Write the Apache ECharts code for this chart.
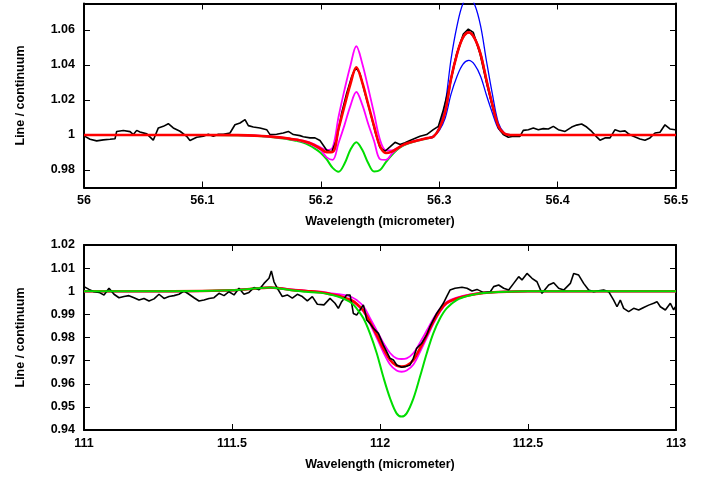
<!DOCTYPE html>
<html>
<head>
<meta charset="utf-8">
<script src="https://cdn.jsdelivr.net/npm/echarts@6/dist/echarts.min.js"></script>
<style>
html,body{margin:0;padding:0;background:#fff;}
#chart{width:717px;height:477px;}
</style>
</head>
<body>
<div id="chart"></div>
<script>
// ---------- Top panel: tick labels ----------
const topXTicks = [56, 56.1, 56.2, 56.3, 56.4, 56.5];
const topYTicks = [0.98, 1, 1.02, 1.04, 1.06];
// ---------- Bottom panel: tick labels ----------
const botXTicks = [111, 111.5, 112, 112.5, 113];
const botYTicks = [0.94, 0.95, 0.96, 0.97, 0.98, 0.99, 1, 1.01, 1.02];

// ---------- Top panel models ----------
const tX = [56.0, 56.05, 56.1, 56.13, 56.15, 56.16, 56.17, 56.175, 56.18, 56.185, 56.19, 56.195, 56.2, 56.205, 56.21, 56.215, 56.22, 56.225, 56.23, 56.235, 56.24, 56.245, 56.25, 56.255, 56.26, 56.265, 56.27, 56.275, 56.28, 56.285, 56.29, 56.295, 56.3, 56.305, 56.31, 56.315, 56.32, 56.325, 56.33, 56.335, 56.34, 56.345, 56.35, 56.355, 56.36, 56.37, 56.4, 56.45, 56.5];
const tGreen = [1.0, 1.0, 1.0, 0.9998, 0.9993, 0.9987, 0.9978, 0.9972, 0.9966, 0.9957, 0.9942, 0.9922, 0.9897, 0.9860, 0.9812, 0.9790, 0.9835, 0.9915, 0.9958, 0.9915, 0.9840, 0.9792, 0.9800, 0.9845, 0.9885, 0.9918, 0.9940, 0.9954, 0.9964, 0.9972, 0.9980, 0.9990, 1.0035, 1.0130, 1.0320, 1.0460, 1.0555, 1.0585, 1.0550, 1.0460, 1.0310, 1.0170, 1.0050, 1.0008, 1.0, 1.0, 1.0, 1.0, 1.0];
const tRed = [1.0, 1.0, 1.0, 0.9999, 0.9994, 0.9989, 0.9982, 0.9977, 0.9972, 0.9965, 0.9955, 0.9940, 0.9921, 0.9902, 0.9903, 1.0035, 1.0165, 1.0290, 1.0386, 1.0300, 1.0175, 1.0050, 0.9935, 0.9897, 0.9905, 0.9925, 0.9945, 0.9957, 0.9966, 0.9974, 0.9982, 0.9990, 1.0035, 1.0130, 1.0320, 1.0460, 1.0555, 1.0585, 1.0550, 1.0460, 1.0310, 1.0170, 1.0050, 1.0008, 1.0, 1.0, 1.0, 1.0, 1.0];
const tMagHi = [1.0, 1.0, 1.0, 0.9999, 0.9994, 0.9990, 0.9983, 0.9978, 0.9974, 0.9967, 0.9959, 0.9945, 0.9928, 0.9914, 0.9928, 1.0104, 1.0257, 1.0395, 1.0506, 1.0408, 1.0269, 1.0122, 0.9973, 0.9912, 0.9911, 0.9927, 0.9946, 0.9958, 0.9967, 0.9975, 0.9983, 0.9990, 1.0035, 1.0130, 1.0320, 1.0460, 1.0555, 1.0585, 1.0550, 1.0460, 1.0310, 1.0170, 1.0050, 1.0008, 1.0, 1.0, 1.0, 1.0, 1.0];
const tMagLo = [1.0, 1.0, 1.0, 0.9999, 0.9994, 0.9988, 0.9981, 0.9975, 0.9970, 0.9962, 0.9951, 0.9934, 0.9913, 0.9872, 0.9858, 0.9954, 1.0056, 1.0166, 1.0245, 1.0173, 1.0064, 0.9965, 0.9862, 0.9858, 0.9893, 0.9923, 0.9943, 0.9956, 0.9965, 0.9973, 0.9981, 0.9990, 1.0035, 1.0130, 1.0320, 1.0460, 1.0555, 1.0585, 1.0550, 1.0460, 1.0310, 1.0170, 1.0050, 1.0008, 1.0, 1.0, 1.0, 1.0, 1.0];
const tBlueHi = [null, null, null, null, null, null, null, null, null, null, null, null, null, null, null, null, null, null, null, null, null, null, null, null, null, null, null, null, 0.9966, 0.9974, 0.9982, 0.9987, 1.0047, 1.0176, 1.0432, 1.0621, 1.0749, 1.0790, 1.0743, 1.0621, 1.0419, 1.0230, 1.0068, 1.0011, 1.0, 1.0, null, null, null];
const tBlueLo = [null, null, null, null, null, null, null, null, null, null, null, null, null, null, null, null, null, null, null, null, null, null, null, null, null, null, null, null, 0.9966, 0.9974, 0.9982, 0.9993, 1.0025, 1.0095, 1.0233, 1.0334, 1.0403, 1.0425, 1.0400, 1.0334, 1.0225, 1.0124, 1.0036, 1.0006, 1.0, 1.0, null, null, null];

// ---------- Top panel observed spectrum ----------
const tObsX = [56.0008, 56.0051, 56.0107, 56.0163, 56.0220, 56.0262, 56.0276, 56.0332, 56.0389, 56.0417, 56.0445, 56.0473, 56.0530, 56.0585, 56.0628, 56.0670, 56.0712, 56.0754, 56.0811, 56.0867, 56.0895, 56.0952, 56.1008, 56.1050, 56.1092, 56.1135, 56.1177, 56.1233, 56.1275, 56.1318, 56.1360, 56.1388, 56.1430, 56.1486, 56.1543, 56.1571, 56.1627, 56.1683, 56.1726, 56.1768, 56.1824, 56.1852, 56.1909, 56.1951, 56.1993, 56.2050, 56.2092, 56.2134, 56.2176, 56.2218, 56.2260, 56.2297, 56.2331, 56.2373, 56.2416, 56.2458, 56.2500, 56.2542, 56.2584, 56.2627, 56.2669, 56.2711, 56.2753, 56.2838, 56.2894, 56.2950, 56.2993, 56.3035, 56.3091, 56.3148, 56.3204, 56.3246, 56.3288, 56.3345, 56.3401, 56.3457, 56.3500, 56.3541, 56.3556, 56.3584, 56.3626, 56.3682, 56.3710, 56.3753, 56.3795, 56.3837, 56.3879, 56.3922, 56.3964, 56.4006, 56.4063, 56.4119, 56.4161, 56.4203, 56.4246, 56.4288, 56.4330, 56.4358, 56.4400, 56.4443, 56.4485, 56.4527, 56.4569, 56.4597, 56.4640, 56.4696, 56.4738, 56.4780, 56.4823, 56.4865, 56.4907, 56.4949, 56.4992];
const tObsY = [0.9992, 0.9975, 0.9966, 0.9972, 0.9975, 0.9978, 1.0020, 1.0025, 1.0019, 1.0002, 1.0026, 1.0017, 1.0006, 0.9970, 1.0040, 1.0049, 1.0064, 1.0040, 1.0021, 0.9992, 0.9968, 0.9987, 0.9992, 1.0004, 0.9992, 1.0004, 1.0004, 1.0011, 1.0058, 1.0068, 1.0087, 1.0053, 1.0045, 1.0040, 1.0030, 1.0002, 1.0004, 1.0011, 1.0020, 1.0002, 0.9996, 0.9990, 0.9983, 0.9983, 0.9968, 0.9913, 0.9902, 0.9973, 1.0124, 1.0237, 1.0331, 1.0384, 1.0350, 1.0237, 1.0133, 1.0020, 0.9927, 0.9907, 0.9932, 0.9958, 0.9945, 0.9955, 0.9968, 0.9992, 1.0002, 1.0030, 1.0049, 1.0143, 1.0294, 1.0463, 1.0576, 1.0604, 1.0585, 1.0463, 1.0294, 1.0143, 1.0040, 1.0002, 0.9996, 0.9987, 0.9992, 0.9992, 1.0026, 1.0030, 1.0040, 1.0030, 1.0036, 1.0034, 1.0049, 1.0030, 1.0020, 1.0045, 1.0056, 1.0062, 1.0045, 1.0020, 0.9989, 0.9970, 0.9983, 0.9983, 1.0030, 1.0020, 1.0023, 1.0007, 0.9992, 0.9977, 0.9970, 0.9983, 1.0011, 1.0015, 1.0058, 1.0034, 1.0030];

// ---------- Bottom panel models ----------
const bX = [111.0, 111.3, 111.5, 111.56, 111.6, 111.63, 111.66, 111.7, 111.75, 111.8, 111.831, 111.86, 111.887, 111.905, 111.921, 111.944, 111.966, 111.989, 112.011, 112.034, 112.056, 112.073, 112.09, 112.113, 112.135, 112.158, 112.18, 112.203, 112.225, 112.259, 112.304, 112.35, 112.4, 112.5, 112.75, 113.0];
const bGreen = [1.0, 1.0, 1.0004, 1.0010, 1.0014, 1.0016, 1.0012, 1.0004, 0.9998, 0.9993, 0.9986, 0.9976, 0.9962, 0.9948, 0.9926, 0.9883, 0.9818, 0.9732, 0.9630, 0.9537, 0.9472, 0.9458, 0.9472, 0.9537, 0.9630, 0.9732, 0.9818, 0.9883, 0.9926, 0.9962, 0.9982, 0.9992, 0.9997, 1.0, 1.0, 1.0];
const bRed = [1.0, 1.0, 1.0004, 1.0010, 1.0014, 1.0016, 1.0013, 1.0006, 1.0001, 0.9996, 0.9988, 0.9980, 0.9969, 0.9960, 0.9946, 0.9917, 0.9868, 0.9811, 0.9753, 0.9703, 0.9678, 0.9674, 0.9678, 0.9703, 0.9753, 0.9811, 0.9868, 0.9917, 0.9949, 0.9969, 0.9984, 0.9993, 0.9997, 1.0, 1.0, 1.0];
const bMagHi = [1.0, 1.0, 1.0004, 1.0010, 1.0014, 1.0016, 1.0014, 1.0008, 1.0003, 0.9998, 0.9992, 0.9988, 0.9982, 0.9974, 0.9962, 0.9935, 0.9885, 0.9830, 0.9778, 0.9733, 0.9710, 0.9707, 0.9710, 0.9733, 0.9778, 0.9830, 0.9881, 0.9925, 0.9954, 0.9972, 0.9986, 0.9994, 0.9997, 1.0, 1.0, 1.0];
const bMagLo = [1.0, 1.0, 1.0004, 1.0010, 1.0014, 1.0016, 1.0013, 1.0006, 1.0001, 0.9996, 0.9987, 0.9979, 0.9967, 0.9957, 0.9942, 0.9911, 0.9859, 0.9798, 0.9737, 0.9683, 0.9657, 0.9652, 0.9657, 0.9683, 0.9737, 0.9798, 0.9859, 0.9911, 0.9946, 0.9967, 0.9983, 0.9993, 0.9997, 1.0, 1.0, 1.0];

// ---------- Bottom panel observed spectrum ----------
const bObsX = [111.0000, 111.0169, 111.0338, 111.0507, 111.0676, 111.0845, 111.1014, 111.1182, 111.1351, 111.1520, 111.1689, 111.1858, 111.2027, 111.2196, 111.2365, 111.2534, 111.2703, 111.2872, 111.3041, 111.3209, 111.3378, 111.3547, 111.3716, 111.3885, 111.4054, 111.4223, 111.4392, 111.4561, 111.4730, 111.4899, 111.5068, 111.5236, 111.5405, 111.5574, 111.5743, 111.5912, 111.6081, 111.6250, 111.6329, 111.6419, 111.6532, 111.6700, 111.6869, 111.7038, 111.7207, 111.7376, 111.7545, 111.7714, 111.7883, 111.8108, 111.8311, 111.8480, 111.8592, 111.8705, 111.8874, 111.8986, 111.9043, 111.9099, 111.9212, 111.9324, 111.9437, 111.9493, 111.9550, 111.9662, 111.9775, 111.9944, 112.0000, 112.0113, 112.0225, 112.0338, 112.0451, 112.0563, 112.0732, 112.0845, 112.1014, 112.1126, 112.1239, 112.1408, 112.1577, 112.1689, 112.1802, 112.1914, 112.2027, 112.2140, 112.2252, 112.2365, 112.2534, 112.2601, 112.2770, 112.2939, 112.3108, 112.3277, 112.3502, 112.3727, 112.3840, 112.4009, 112.4178, 112.4347, 112.4516, 112.4685, 112.4797, 112.4966, 112.5135, 112.5304, 112.5473, 112.5529, 112.5698, 112.5867, 112.6036, 112.6205, 112.6430, 112.6543, 112.6712, 112.6880, 112.7049, 112.7218, 112.7387, 112.7556, 112.7725, 112.7894, 112.8007, 112.8119, 112.8232, 112.8401, 112.8570, 112.8739, 112.8908, 112.9077, 112.9245, 112.9358, 112.9471, 112.9640, 112.9809, 112.9921, 112.9977];
const bObsY = [1.0020, 1.0008, 0.9998, 0.9995, 0.9984, 1.0013, 0.9987, 0.9972, 0.9977, 0.9981, 0.9972, 0.9962, 0.9969, 0.9958, 0.9967, 0.9987, 0.9969, 0.9977, 0.9981, 0.9987, 1.0001, 0.9987, 0.9972, 0.9958, 0.9962, 0.9969, 0.9972, 0.9991, 0.9981, 0.9998, 0.9984, 1.0013, 0.9987, 0.9995, 1.0016, 1.0006, 1.0034, 1.0056, 1.0088, 1.0041, 1.0013, 0.9977, 0.9984, 0.9970, 0.9987, 0.9977, 0.9958, 0.9977, 0.9944, 0.9941, 0.9969, 0.9948, 0.9926, 0.9955, 0.9984, 0.9984, 0.9948, 0.9904, 0.9897, 0.9919, 0.9941, 0.9912, 0.9876, 0.9861, 0.9840, 0.9818, 0.9825, 0.9767, 0.9739, 0.9710, 0.9703, 0.9681, 0.9671, 0.9674, 0.9681, 0.9710, 0.9753, 0.9775, 0.9811, 0.9847, 0.9876, 0.9904, 0.9926, 0.9948, 0.9977, 1.0005, 1.0013, 1.0005, 1.0017, 1.0013, 1.0001, 1.0008, 0.9994, 0.9998, 1.0020, 1.0027, 1.0013, 1.0005, 1.0034, 1.0063, 1.0049, 1.0077, 1.0056, 1.0041, 0.9991, 0.9994, 1.0027, 1.0037, 1.0013, 1.0005, 1.0034, 1.0077, 1.0070, 1.0034, 1.0005, 0.9998, 1.0002, 1.0005, 0.9998, 0.9962, 0.9933, 0.9962, 0.9926, 0.9912, 0.9926, 0.9919, 0.9930, 0.9940, 0.9948, 0.9955, 0.9933, 0.9919, 0.9948, 0.9919, 0.9933];

// ---------- build ----------
const zip = (xs, ys) => xs.map((x, i) => [x, ys[i] === null ? null : ys[i]]);
const FONT = "'Liberation Sans', Arial, sans-serif";
const labelStyle = { fontFamily: FONT, fontWeight: 'bold', fontSize: 12.5, color: '#000' };
const axisLineStyle = { show: true, lineStyle: { color: '#000', width: 2 } };

function xAxes(gi, min, max, ticks, pos, showLabel) {
  return {
    type: 'value', gridIndex: gi, position: pos, min: min, max: max,
    axisLine: axisLineStyle,
    axisTick: { show: true, inside: true, length: 6, customValues: ticks, lineStyle: { color: '#000', width: 1 } },
    axisLabel: showLabel ? Object.assign({ show: true, margin: 7, customValues: ticks }, labelStyle) : { show: false },
    splitLine: { show: false },
    name: showLabel ? 'Wavelength (micrometer)' : '',
    nameLocation: 'middle', nameGap: 28,
    nameTextStyle: { fontFamily: FONT, fontWeight: 'bold', fontSize: 12.5, color: '#000' }
  };
}
function yAxes(gi, min, max, ticks, pos, showLabel) {
  return {
    type: 'value', gridIndex: gi, position: pos, min: min, max: max,
    axisLine: axisLineStyle,
    axisTick: { show: true, inside: true, length: 6, customValues: ticks, lineStyle: { color: '#000', width: 1 } },
    axisLabel: showLabel ? Object.assign({ show: true, margin: 9, customValues: ticks }, labelStyle) : { show: false },
    splitLine: { show: false },
    name: showLabel ? 'Line / continuum' : '',
    nameLocation: 'middle', nameGap: 57,
    nameTextStyle: { fontFamily: FONT, fontWeight: 'bold', fontSize: 12.5, color: '#000' }
  };
}
function line(name, data, color, width, xi, yi, smooth) {
  return {
    name: name, type: 'line', data: data, xAxisIndex: xi, yAxisIndex: yi,
    showSymbol: false, symbol: 'none', smooth: smooth ? 0.35 : false,
    connectNulls: false, clip: true,
    lineStyle: { color: color, width: width }, itemStyle: { color: color },
    silent: true, animation: false
  };
}

const option = {
  animation: false,
  backgroundColor: '#fff',
  grid: [
    { left: 84, top: 3.5, width: 592, height: 184 },
    { left: 84, top: 245, width: 592, height: 185 }
  ],
  xAxis: [
    xAxes(0, 56, 56.5, topXTicks, 'bottom', true),
    xAxes(0, 56, 56.5, topXTicks, 'top', false),
    xAxes(1, 111, 113, botXTicks, 'bottom', true),
    xAxes(1, 111, 113, botXTicks, 'top', false)
  ],
  yAxis: [
    yAxes(0, 0.97, 1.075, topYTicks, 'left', true),
    yAxes(0, 0.97, 1.075, topYTicks, 'right', false),
    yAxes(1, 0.94, 1.02, botYTicks, 'left', true),
    yAxes(1, 0.94, 1.02, botYTicks, 'right', false)
  ],
  series: [
    line('green', zip(tX, tGreen), '#00dd00', 2, 0, 0, true),
    line('magenta hi', zip(tX, tMagHi), '#ff00ff', 1.8, 0, 0, true),
    line('magenta lo', zip(tX, tMagLo), '#ff00ff', 1.8, 0, 0, true),
    line('blue hi', zip(tX, tBlueHi), '#0000ff', 1.3, 0, 0, true),
    line('blue lo', zip(tX, tBlueLo), '#0000ff', 1.3, 0, 0, true),
    line('observed', zip(tObsX, tObsY), '#000000', 1.6, 0, 0, false),
    line('red', zip(tX, tRed), '#ff0000', 2.6, 0, 0, true),

    line('magenta hi b', zip(bX, bMagHi), '#ff00ff', 1.8, 2, 2, true),
    line('magenta lo b', zip(bX, bMagLo), '#ff00ff', 1.8, 2, 2, true),
    line('red b', zip(bX, bRed), '#ff0000', 2.6, 2, 2, true),
    line('observed b', zip(bObsX, bObsY), '#000000', 1.6, 2, 2, false),
    line('green b', zip(bX, bGreen), '#00dd00', 2, 2, 2, true)
  ]
};

const chart = echarts.init(document.getElementById('chart'), null, { renderer: 'canvas' });
chart.setOption(option);
</script>
</body>
</html>
